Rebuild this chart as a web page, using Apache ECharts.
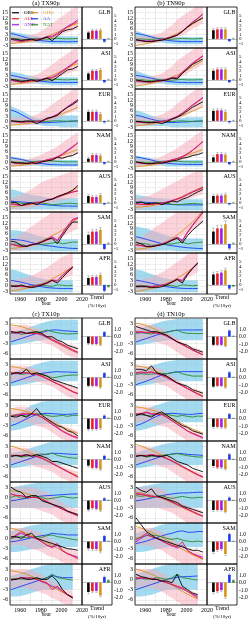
<!DOCTYPE html>
<html><head><meta charset="utf-8">
<script src="https://cdn.jsdelivr.net/npm/echarts@6/dist/echarts.min.js"></script>
<style>html,body{margin:0;padding:0;background:#fff}#c{width:250px;height:621px}</style>
</head><body><div id="c"></div>
<script>
// ---------------- data ----------------
const years = [1951,1956,1961,1966,1971,1976,1981,1986,1991,1996,2001,2006,2011,2016];
const regions = ['GLB','ASI','EUR','NAM','AUS','SAM','AFR'];
const seriesNames = ['OBS','ALL','ANT','GHG','AA','NAT'];
const seriesColors = ['#000000','#ee1c25','#a01ee6','#d8941a','#1a3cf0','#2a8c2a'];
const hotLeftTicks = [-3,0,3,6,9,12,15];
const coldLeftTicks = [-6,-3,0,3];
const hotRightTicks = [-1,0,1,2,3,4,5];
const coldRightTicks = [-2,-1,0,1];
const yearTicks = [1960,1980,2000,2020];

// ---- TX90p ----
const TX90p_OBS = [
[0.5,0.3,-0.3,0,0.3,-0.5,0.5,1.5,-0.5,2,4.5,5.5,6,7.5],
[0.8,0.3,-0.3,0,0.5,-0.3,0.5,1.5,0,2,4,6,6.5,8],
[0.5,0.3,0,0.5,0.3,-1,0.3,2,2.5,3.5,6,8,9.5,11.5],
[0.5,0,0,-0.5,0,-0.5,0.5,1,1.5,3,2.5,3.5,4,5.5],
[1,0.5,-1,0,0.5,-0.5,1,2,2.5,4,5,6,7.5,10],
[2,1.5,-0.5,-1,0,0.5,1.5,3,3.5,0.5,5,9,12.5,12.5],
[0,-0.5,0.5,-0.5,-1,-0.5,0.5,1.5,3,1.5,4.5,7.5,10,null]];
const TX90p_ALL = [
[0.5,-0.5,-1,-0.5,0,0,0.5,1.5,1.5,3,5,7,8.5,10],
[0.5,-0.3,-0.8,-0.5,0,0,0.5,1.3,1.5,3,5,7,9,11],
[0.3,0,-0.3,0,0,0,0.5,1.5,2.5,4,6,8,10,12],
[0.3,-0.3,-0.5,-0.3,0,0.2,0.7,1.5,2,3,4.5,6.5,8.5,11],
[0,-0.5,-1,-0.5,0,0.5,1,2,2.5,3.5,4.5,5.5,6.5,7],
[0.5,-0.5,-1,-0.8,0,0.5,1.5,2.5,4,2,6,10,13.5,14.5],
[-0.5,0,-0.5,-0.5,-0.5,0,0.5,1.5,3,2.5,5.5,8,10.3,null]];
const TX90p_ANT = [
[0.3,-0.3,-0.5,0,0,0.2,0.7,1.8,2,3.5,5.5,7.5,9,11],
[0.3,-0.2,-0.5,0,0,0.3,0.8,1.5,2,3.5,5.5,7.5,9.5,11.5],
[0.3,0,-0.3,0,0.2,0.3,0.7,1.8,2.8,4.2,6.2,8.3,10.3,12.3],
[0.3,-0.3,-0.5,-0.3,0,0.3,0.8,1.7,2.3,3.3,5,7,9,11],
[0,-0.5,-0.8,-0.3,0.2,0.7,1.2,2.2,2.8,3.8,4.8,5.8,6.5,7.2],
[0.5,-0.3,-0.8,-0.5,0.2,0.8,1.8,3,4.5,2.5,6.5,10.5,14,15],
[-0.3,0,-0.3,-0.3,-0.3,0.2,0.8,1.8,3.2,3,5.8,8.3,10.5,null]];
const TX90p_GHG = [
[-2,-1.8,-1.5,-1,-0.5,0,0.8,1.8,3,4.2,5.5,6.8,8,9],
[-2,-1.8,-1.4,-1,-0.5,0,0.8,1.8,3,4.3,5.7,7,8.5,9.5],
[-1.8,-1.6,-1.3,-1,-0.5,0,0.7,1.5,2.5,3.5,4.5,5.7,6.8,8],
[-1.8,-1.6,-1.3,-1,-0.6,0,0.7,1.5,2.3,3.2,4.2,5.2,6.3,7.3],
[-1.5,-1.3,-1,-0.7,-0.3,0.2,0.8,1.7,2.7,3.8,5,6.2,7.5,8.8],
[-2,-1.8,-1.4,-0.8,0,1,2.2,3.5,5,6.5,8,10,12.5,14.5],
[-2.8,-2.4,-1.9,-1.3,-0.6,0.2,1.2,2.4,3.8,5.3,7,8.8,10.5,null]];
const TX90p_AA = [
[3.5,2.8,2,1.2,0.5,0,-0.5,-0.8,-1,-1,-1,-1.1,-1,-1],
[3,2.5,1.8,1.2,0.6,0,-0.3,-0.6,-0.8,-0.9,-0.9,-1,-0.9,-0.9],
[6.5,5.5,4,2.5,1,0,-0.5,-0.5,-0.3,-0.2,0,0.2,0.3,0.5],
[2.8,2.3,1.8,1.2,0.6,0,-0.4,-0.8,-1,-1.1,-1.2,-1.2,-1.2,-1.2],
[1.5,1.2,1,0.8,0.5,0,-0.3,-0.6,-0.8,-1,-1.2,-1.2,-1.3,-1.3],
[3,2.8,2.5,2,1.2,0.5,0,-0.5,-0.8,-1.2,-1.5,-1.8,-2,-2],
[3,2.5,2,1.3,0.6,0,-0.5,-1,-1.2,-1.4,-1.5,-1.5,-1.5,null]];
const TX90p_NAT = [
[0.5,0.6,0.3,0.2,0.5,0.8,0.5,0.3,0.6,0.8,0.6,0.5,0.6,0.7],
[0.5,0.7,0.3,0.2,0.6,0.8,0.4,0.4,0.7,0.8,0.6,0.5,0.7,0.6],
[0.5,0.4,0.3,0.2,0.5,0.6,0.3,0.2,0.5,0.6,0.4,0.3,0.5,0.4],
[0.5,0.4,0.2,0.3,0.5,0.8,1,1.2,1,0.8,0.6,0.5,0.6,0.5],
[0.5,0.8,0.3,0,0.5,1,0.5,0,-0.5,-0.3,0,0.3,0.2,0],
[0,0.5,0.2,-0.5,0,0.5,0.3,0.5,1,1.5,0.5,1,1.5,1.5],
[0,0.3,0,-0.5,0,0.5,0.3,0,-0.3,0.5,0.3,0,0.3,null]];
const TX90p_BLo = [
[-1.5,-1.5,-1.5,-1.5,-1.5,-1.5,-2,-2,-2.5,-2.5,-2.5,-2.5,-2.5,-2.5],
[-1.5,-1.5,-1.5,-1.5,-1.5,-1.5,-2,-2,-2.5,-2.5,-2.5,-2.5,-2.5,-2.5],
[-1,-1,-1,-1.5,-1.5,-1.5,-2,-2.5,-2.5,-2.5,-3,-3,-3,-3],
[-1.5,-1.5,-1.5,-1.5,-1.5,-1.5,-2,-2,-2,-2,-2,-2,-2,-2],
[-3,-3,-3,-3,-3,-3,-3,-3,-3,-3,-3,-3,-3,-3],
[-3,-3,-3,-3,-3,-3,-3,-3,-3.5,-3.5,-3.5,-3.5,-3.5,-3.5],
[-3.5,-3.5,-3.5,-3.5,-3.5,-3.5,-3.5,-3.5,-3.5,-3.5,-3.5,-3.5,-3.5,null]];
const TX90p_BHi = [
[4.5,4,3.5,3,2.5,2,1.5,1.5,1.5,2,2,2,2,2],
[5,4.5,4,3,2.5,2,1.5,1.5,1.5,2,2,2,2,2],
[8.5,7.5,6,4.5,3,2,2,2.5,3,3.5,3.5,3.5,3.5,3.5],
[3.5,3,2.5,2,2,2,1.5,1.5,1.5,1.5,1.5,1.5,1.5,1.5],
[8,7.5,6.5,5.5,5,4.5,4,3.5,3,3,3,3,3,3],
[8,8,7.5,7,6,5,4.5,4,3.5,3,3,3,3,3],
[9,8.5,7.5,6.5,5.5,4.5,4,3.5,3,3,3,3,3,null]];
const TX90p_PLo = [
[-2,-2,-2,-2,-1.5,-1.5,-1,-0.5,0.5,1.5,3,4,5,6],
[-2,-2,-2,-2,-1.5,-1.5,-1,-0.5,0.5,1.5,3,4,5,6],
[-2,-2,-2,-2,-1.5,-1.5,-1,-0.5,0.5,1.5,3,4.5,5.5,6.5],
[-2,-2,-2,-2,-1.5,-1.5,-1,-0.5,0,1,2,3,4,5],
[-3,-3,-3,-2.5,-2,-1.5,-1,0,0.5,1,2,2.5,3,3.5],
[-3,-3,-3,-2.5,-1.5,-1,0,1,2,3,4.5,6,7.5,9],
[-3,-3,-2.5,-2,-1.5,-1,-0.5,0,1,2,3.5,5,6,null]];
const TX90p_PHi = [
[2,2,2,2,2.5,3.5,5,7,9,11,13,15,17,19],
[2,2,2,2,2.5,3.5,5,7,9,11,13,15,17,19],
[2.5,2.5,2.5,2.5,3,4,5.5,7.5,9.5,11.5,13.5,15.5,17.5,19.5],
[2,2,2,2,2.5,3.5,4.5,6,7.5,9,11,13,15,17],
[3,4,5,6.5,8,10,12,13,14,15,16,17,18,19],
[3,4,6,8,10,12,14,16,18,20,22,24,26,28],
[3,3.5,4,4.5,5.5,7,8.5,10,12,14,16,17,18,null]];
const TX90p_TR = [
[1.4,1.8,1.8,1.9,-0.6,0.05],
[1.4,2.0,2.0,2.2,-0.5,0.05],
[2.0,2.0,2.0,1.5,-0.3,0.05],
[0.7,1.5,1.5,1.4,-0.4,0.05],
[1.5,1.3,1.3,1.7,-0.3,0.05],
[2.0,2.7,2.7,3.1,-1.1,0.1],
[1.5,1.7,1.75,2.2,-1.3,-0.4]];
const TX90p_ER = [
[0.3,0.3,0.3,0.3,0.15,0.1],
[0.3,0.3,0.3,0.3,0.15,0.1],
[0.4,0.35,0.35,0.35,0.2,0.1],
[0.35,0.35,0.35,0.35,0.15,0.1],
[0.4,0.35,0.35,0.35,0.15,0.1],
[0.6,0.5,0.5,0.5,0.2,0.15],
[0.5,0.4,0.4,0.4,0.2,0.1]];

// ---- TN90p ----
const TN90p_OBS = [
[0,-0.5,-1,-1,-0.5,-0.3,0.5,1.5,2.5,4.5,7,9,10.5,12],
[0.5,0,-0.5,-0.5,0,0,0.5,1.5,1,4,6.5,9,10.5,12],
[0.3,0,-0.5,-0.5,-0.3,-1,0,1.5,2.5,4,6,8,9.5,11],
[0.5,0,-0.5,-0.5,0,-0.3,0.3,1,1.5,2.5,3,4,4.5,5.5],
[0.5,1,0,0.3,0.5,-0.5,0.5,1.5,1,2.5,3.5,5,6.5,7.8],
[1.5,0.5,-1,-1,-0.5,0,1,2.5,3.5,1,5,8,10.5,13],
[-0.5,-0.5,-0.5,-1,-1,-0.5,0.5,2,3.5,1.5,6,9.5,12.3,null]];
const TN90p_ALL = [
[0,-0.5,-0.8,-0.8,-0.5,0,0.7,1.5,2.5,4.5,7,9.5,11.5,14],
[0,-0.5,-0.7,-0.7,-0.3,0,0.7,1.5,1.5,4.5,7,9.5,11.5,13.5],
[0,-0.3,-0.5,-0.5,-0.3,0,0.5,1.5,2.8,4.5,6.8,9,11,13],
[0.3,-0.3,-0.5,-0.5,-0.2,0.2,0.7,1.5,2.2,3.2,4.8,6.8,9,11.5],
[0,-0.3,-0.5,-0.3,0,0.3,0.8,1.6,2.5,3.5,5,6.3,7.5,8.7],
[0,-0.5,-1,-1,-0.5,0.3,1.2,2.5,4,2,6.5,10.5,14,17.5],
[-0.5,-0.3,-0.5,-0.5,-0.3,0.2,0.8,2,3.5,2.5,6.5,9.5,12.5,null]];
const TN90p_ANT = [
[0,-0.3,-0.6,-0.6,-0.3,0.2,0.9,1.7,2.8,4.8,7.3,9.8,11.8,14.3],
[0,-0.3,-0.5,-0.5,-0.1,0.2,0.9,1.7,2,4.8,7.3,9.8,11.8,13.8],
[0,-0.2,-0.4,-0.3,-0.1,0.3,0.8,1.8,3,4.8,7,9.3,11.3,13.5],
[0.3,-0.2,-0.4,-0.4,-0.1,0.3,0.9,1.7,2.4,3.5,5,7,9.3,11.8],
[0,-0.2,-0.4,-0.2,0.1,0.5,1,1.8,2.7,3.8,5.2,6.6,7.8,9],
[0,-0.3,-0.8,-0.8,-0.3,0.5,1.5,2.8,4.3,2.5,7,11,14.5,18],
[-0.3,-0.2,-0.3,-0.3,-0.1,0.4,1,2.2,3.8,3,6.8,9.8,12.8,null]];
const TN90p_GHG = [
[-3,-2.6,-2.1,-1.5,-0.8,0,1,2.2,3.5,5,6.7,8.5,10.5,12.5],
[-2.8,-2.4,-2,-1.4,-0.7,0,1,2,3.2,4.6,6.2,7.8,9.5,11],
[-2.2,-1.9,-1.6,-1.2,-0.7,-0.1,0.6,1.4,2.4,3.5,4.7,5.9,7,8.2],
[-2.2,-1.9,-1.6,-1.2,-0.7,-0.1,0.6,1.4,2.3,3.3,4.3,5.3,6.3,7.3],
[-2,-1.7,-1.4,-1,-0.5,0.1,0.8,1.7,2.8,4,5.5,6.8,8.2,9.5],
[-2.5,-2.2,-1.8,-1.2,-0.4,0.6,1.8,3.5,5.5,7.5,10,12.5,15.5,19],
[-3.2,-2.7,-2.1,-1.4,-0.6,0.3,1.4,2.7,4.2,5.9,7.8,9.8,12,null]];
const TN90p_AA = [
[3.5,3,2.3,1.5,0.8,0.2,-0.3,-0.6,-0.8,-1,-1,-1,-1,-1],
[3,2.6,2,1.4,0.8,0.2,-0.3,-0.6,-0.8,-0.9,-1,-1,-1,-1],
[3.6,3,2.2,1.4,0.7,0.1,-0.3,-0.4,-0.3,-0.1,0,0.2,0.3,0.5],
[3.2,2.7,2.1,1.5,0.8,0.2,-0.2,-0.5,-0.7,-0.8,-0.9,-0.9,-0.9,-0.9],
[1,0.9,0.8,0.6,0.4,0,-0.2,-0.4,-0.5,-0.6,-0.6,-0.6,-0.6,-0.6],
[4.4,3.8,3,2.2,1.4,0.6,0,-0.5,-0.9,-1.3,-1.6,-1.8,-2,-2],
[3.1,2.6,2,1.4,0.7,0,-0.5,-0.9,-1.2,-1.4,-1.5,-1.5,-1.5,null]];
const TN90p_NAT = [
[0.3,0.5,0.3,0.2,0.5,0.8,0.5,0.3,0.6,0.8,0.6,0.5,0.6,0.7],
[0.4,0.6,0.3,0.2,0.5,0.7,0.4,0.3,0.6,0.7,0.5,0.5,0.6,0.6],
[0.3,0.3,0.2,0.1,0.3,0.5,0.2,0.1,0.4,0.5,0.3,0.2,0.4,0.3],
[0.4,0.4,0.2,0.3,0.5,0.7,0.9,1,0.8,0.6,0.5,0.4,0.5,0.4],
[0.5,0.8,0.3,0,0.5,0.7,0.3,-0.3,-0.5,-0.3,0,0.2,0,-0.2],
[0.3,0.8,0.5,-0.3,0,0.5,0.3,0.5,1,1.5,0.5,1,1.3,1.5],
[0,0.3,0,-0.5,0,0.5,0.3,0,-0.3,0.5,0.3,0,0.3,null]];
const TN90p_BLo = [
[-1.5,-1.5,-1.5,-1.5,-1.5,-1.5,-2,-2,-2.5,-2.5,-2.5,-2.5,-2.5,-2.5],
[-1.5,-1.5,-1.5,-1.5,-1.5,-1.5,-2,-2,-2.5,-2.5,-2.5,-2.5,-2.5,-2.5],
[-2.5,-2.5,-2.5,-2.5,-2.5,-2.5,-2.5,-3,-3,-3,-3,-3,-3,-3],
[-1.5,-1.5,-1.5,-1.5,-1.5,-1.5,-2,-2,-2,-2,-2,-2,-2,-2],
[-3.5,-3.5,-3.5,-3.5,-3.5,-3.5,-3.5,-3.5,-3.5,-3.5,-3.5,-3.5,-3.5,-3.5],
[-3,-3,-3,-3,-3,-3,-3,-3,-3.5,-3.5,-3.5,-3.5,-3.5,-3.5],
[-3.5,-3.5,-3.5,-3.5,-3.5,-3.5,-3.5,-3.5,-3.5,-3.5,-3.5,-3.5,-3.5,null]];
const TN90p_BHi = [
[5,4,3,2.5,2,1.5,1.5,1.5,1.5,1.5,1.5,1.5,1.5,1.5],
[5.5,4.5,3.5,2.5,2,1.5,1.5,1.5,1.5,1.5,1.5,1.5,1.5,1.5],
[6.5,5.5,4.5,3.5,2.5,2,2,2,2,2,2.5,2.5,2.5,2.5],
[4,3.5,3,2.5,2,1.5,1.5,1.5,1.5,1.5,1.5,1.5,1.5,1.5],
[5,4.5,4,3.5,3,3,2.5,2.5,2.5,2.5,2.5,2.5,2.5,2.5],
[10,9.5,9,8,7,6,5,4.5,4,3.5,3.5,3.5,3.5,3.5],
[9,8.5,7.5,6.5,5.5,4.5,4,3.5,3,3,3,3,3,null]];
const TN90p_PLo = [
[-2,-2,-2,-2,-1.5,-1,-0.5,0,1,2.5,4,6,7.5,9],
[-2,-2,-2,-2,-1.5,-1,-0.5,0,1,2.5,4,6,7.5,9],
[-2,-2,-2,-2,-1.5,-1,-0.5,0,1,2.5,4,5.5,7,8.5],
[-2,-2,-2,-2,-1.5,-1,-0.5,0,0.5,1.5,2.5,3.5,5,6.5],
[-3,-3,-2.5,-2,-1.5,-1,-0.5,0,0.5,1.5,2.5,3.5,4.5,5],
[-3,-3,-3,-2.5,-1.5,-0.5,0.5,1.5,3,4.5,6,8,10,12],
[-3,-3,-2.5,-2,-1.5,-1,-0.5,0.5,1.5,3,4.5,6,7.5,null]];
const TN90p_PHi = [
[2,2,2,2.5,3,4,6,8,11,13,15,17,19,21],
[2,2,2,2.5,3,4,6,8,11,13,15,17,19,21],
[2.5,2.5,2.5,2.5,3,4,5.5,7.5,10,12,14.5,16.5,18.5,20.5],
[2,2,2,2,2.5,3.5,5,6.5,8,10,12,14,16,18],
[3,3.5,4,5,6.5,8,9.5,11,12.5,14,15.5,17,18,19],
[3,4,6,8,10,12,14,16,18,20,22,24,26,28],
[3,3.5,4,5,6,7.5,9,11,13,15,17,18.5,20,null]];
const TN90p_TR = [
[1.9,2.1,2.1,2.1,-0.5,0.05],
[2.0,2.3,2.3,2.3,-0.5,0.05],
[2.2,2.3,2.3,2.0,-0.3,0.05],
[1.0,1.7,1.7,1.6,-0.5,0.05],
[1.5,1.6,1.6,1.8,-0.3,0.05],
[2.7,3.4,3.4,4.3,-1.0,0.1],
[2.3,2.5,2.7,3.2,-0.8,-0.3]];
const TN90p_ER = [
[0.35,0.35,0.35,0.35,0.15,0.1],
[0.35,0.35,0.35,0.35,0.15,0.1],
[0.4,0.35,0.35,0.35,0.2,0.1],
[0.4,0.35,0.35,0.35,0.15,0.1],
[0.4,0.35,0.35,0.35,0.15,0.1],
[0.8,0.7,0.7,0.8,0.3,0.15],
[0.5,0.45,0.45,0.45,0.2,0.1]];

// ---- TX10p ----
const TX10p_OBS = [
[0.5,0.3,0.5,0,0.3,0.5,0,-1,-1,-2,-2.5,-3.5,-4,-4.5],
[0,0.5,0.3,1.5,0,0.5,0,-0.5,-1.5,-2,-2.5,-3,-3.5,-4],
[-0.3,-0.5,0,-0.5,0.5,2,0,-1,-2,-3,-3.5,-4.5,-5,-6],
[0,0.3,0,0.5,0,0.5,0,-0.5,-1.5,-1.5,-2,-2.5,-3,-3.5],
[3,2,1.5,0,0.5,0.5,-1,-1.5,-2,-2.5,-3,-4,-4.5,-5],
[0.5,0.5,0,1,1.5,0,-0.5,-1,-1.5,-2,-2.5,-3,-3.2,-3.5],
[0,0,0.5,0,0,0.5,0,0,1,-0.5,-3,-4.5,-5.5,null]];
const TX10p_ALL = [
[0.5,0.2,0.3,0,0,0,-0.3,-1,-1.8,-2.5,-3.2,-4,-4.8,-5.5],
[0.5,0.5,0.5,0.5,0.2,0,-0.5,-1.2,-2,-2.7,-3.4,-4.2,-5,-5.6],
[-0.3,0,0.5,0.5,0.5,0.3,-0.5,-1.5,-2.5,-3.5,-4.5,-5.3,-6,-6.5],
[0.3,0.3,0.3,0.5,0.3,0,-0.5,-1.2,-2,-2.8,-3.6,-4.4,-5.2,-6],
[1,0.5,0.5,0,0,0,-0.5,-1.2,-2,-2.7,-3.4,-4.1,-4.7,-5.3],
[0,1,2,1,0.5,0,-1,-2,-2.5,-1.5,-3.5,-4.5,-5.2,-6],
[0,0,0.5,0.3,0.5,0,-0.5,-1,-3,-2,-3.5,-4.5,-5.3,null]];
const TX10p_ANT = [
[0.3,0,0.2,0,0,-0.1,-0.5,-1.2,-2,-2.7,-3.4,-4.2,-5,-5.6],
[0.3,0.2,0.3,0.4,0.1,-0.1,-0.6,-1.3,-2.1,-2.8,-3.5,-4.3,-5.1,-5.7],
[-0.3,0,0.3,0.3,0.3,0.2,-0.6,-1.6,-2.7,-3.7,-4.7,-5.5,-6.2,-6.7],
[0.2,0.2,0.2,0.4,0.2,-0.1,-0.6,-1.3,-2.1,-2.9,-3.7,-4.5,-5.3,-6.1],
[1,0.6,0.4,0.1,0,-0.1,-0.6,-1.3,-2.1,-2.8,-3.5,-4.2,-4.8,-5.4],
[0,0.8,1.5,0.8,0.3,-0.2,-1,-2,-2.7,-2,-3.7,-4.5,-5,-5.5],
[-0.3,0,0.5,0.5,0.3,0,-0.7,-1.2,-2,-2.5,-3.5,-4.5,-5.2,null]];
const TX10p_GHG = [
[2.5,2.3,2,1.5,1,0.3,-0.5,-1.3,-2.1,-2.9,-3.7,-4.5,-5.2,-5.8],
[2.3,2.1,1.8,1.4,0.9,0.3,-0.4,-1.2,-2,-2.8,-3.6,-4.4,-5.1,-5.7],
[2,1.8,1.5,1.1,0.6,0,-0.6,-1.3,-2,-2.7,-3.4,-4.1,-4.7,-5.2],
[3,2.6,2.1,1.5,0.9,0.2,-0.5,-1.3,-2.1,-2.9,-3.7,-4.4,-5,-5.6],
[2,1.8,1.5,1.1,0.6,0,-0.6,-1.3,-2,-2.7,-3.4,-4.1,-4.8,-5.4],
[3,2.6,2.1,1.5,0.9,0.2,-0.5,-1.3,-2.1,-2.9,-3.7,-4.4,-5,-5.6],
[2.5,2.3,2,1.5,0.9,0.2,-0.6,-1.4,-2.2,-3,-3.8,-4.5,-5.2,null]];
const TX10p_AA = [
[-2.5,-2,-1.5,-1,-0.5,0,0.3,0.7,1,1,0.8,0.7,0.6,0.5],
[-2.5,-2,-1.5,-1,-0.5,0,0.3,0.5,0.7,0.8,0.7,0.7,0.6,0.6],
[-3,-2.5,-1.8,-1,-0.3,0.2,0.5,0.6,0.5,0.4,0.3,0.3,0.4,0.5],
[-2.5,-2,-1.5,-1,-0.5,0,0.4,0.7,0.9,0.9,0.8,0.7,0.6,0.6],
[-1,-0.8,-0.5,-0.3,0,0.2,0.4,0.5,0.6,0.7,0.8,0.9,1,1],
[-1,-0.8,-0.5,-0.2,0.2,0.5,0.8,1,1.5,1.3,1.2,1,1,1],
[-3,-2.5,-2,-1.5,-1,-0.5,0,0.5,1.2,0.8,0.5,0.5,0.5,null]];
const TX10p_NAT = [
[0,0.2,-0.3,0,0.2,0.3,0.5,1,0.5,0.2,0,-0.2,-0.1,0],
[0.5,0.3,0,0.2,0.3,0.2,0,-0.5,-1,-0.8,-0.5,-0.3,-0.2,-0.2],
[0,0.2,0,-0.2,0.3,0.5,0.3,0,-0.3,-0.2,0,-0.3,0,0],
[0,0.2,-0.2,0,0.3,0.5,0.7,0.5,1,0.3,0,-0.3,-0.5,-0.5],
[0,0.5,-0.3,0,0.5,0.3,0,-0.5,-0.3,0,0.3,0,-0.2,0],
[0,0.3,0.5,0.2,0.3,0.5,0.3,0.8,1,0.5,0.3,0,-0.3,-0.5],
[0,0.3,0,0.2,0.5,0.3,0,0.5,1.5,0.5,0.3,0,-0.2,null]];
const TX10p_BLo = [
[-3.5,-3.3,-3,-2.8,-2.5,-2.2,-2,-1.8,-1.8,-2,-2,-2,-2,-2],
[-3.5,-3.3,-3,-2.8,-2.5,-2.2,-2,-2,-2,-2,-2,-2,-2,-2],
[-4.5,-4.3,-4,-3.5,-3,-2.5,-2.5,-2.5,-2.5,-2.5,-2.5,-2.5,-2.5,-2.5],
[-3.5,-3.3,-3,-2.8,-2.5,-2.5,-2.5,-2.5,-2.5,-2.5,-2.5,-2.5,-2.5,-2.5],
[-3,-3,-3,-3,-3,-3,-3,-3,-3,-3,-3,-3,-3,-3],
[-4,-4,-3.8,-3.5,-3.2,-3,-2.8,-2.5,-2.5,-2.5,-2.5,-2.5,-2.5,-2.5],
[-5,-5,-4.8,-4.5,-4,-3.5,-3,-3,-3,-3,-3,-3,-3,null]];
const TX10p_BHi = [
[0.5,0.8,1,1.5,2,2.5,3,3.5,3.8,4,4,4,4,4],
[0.5,1,1.5,2,2.5,3,3.5,3.8,4,4,4,4,4,4],
[0,0.5,1,2,3,3.5,4,4.2,4.3,4.3,4.3,4.3,4.3,4.3],
[1,1.2,1.5,2,2.5,3,3.5,4,4.2,4.3,4.3,4.3,4.3,4.3],
[3,3.2,3.5,3.8,4,4.2,4.3,4.3,4.3,4.3,4.3,4.3,4.3,4.3],
[2,2.5,3,3.5,3.8,4,4.2,4.3,4.3,4.3,4.3,4.3,4.3,4.3],
[1,1.5,2,2.5,3,3.5,4,4.3,4.5,4.5,4.5,4.5,4.5,null]];
const TX10p_PLo = [
[-2,-2,-2,-2,-2,-2,-2.5,-3,-3.5,-4.5,-5.5,-6.5,-7,-7.5],
[-2,-2,-2,-2,-2,-2,-2.5,-3,-3.5,-4.5,-5.5,-6.5,-7,-7.5],
[-2,-2,-2,-2,-2.5,-3,-3.5,-4,-5,-6,-7,-7.5,-7.5,-7.5],
[-2,-2,-2,-2,-2.5,-3,-3.5,-4,-4.5,-5.5,-6.5,-7,-7.5,-7.5],
[-3,-3,-3,-3,-3,-3.5,-4,-4.5,-5,-6,-7,-7.5,-7.5,-7.5],
[-2,-2,-2,-2.5,-3,-3.5,-4,-5,-5.5,-6,-7,-7.5,-7.5,-7.5],
[-2.5,-2.5,-2.5,-2.5,-3,-3.5,-4,-4.5,-5.5,-6,-7,-7.5,-7.5,null]];
const TX10p_PHi = [
[2,2,2.5,2.5,2,1.5,1,0.5,-0.5,-1.5,-2.5,-3,-3.5,-4],
[2.5,2.5,2.5,2.5,2,1.5,1,0.5,-0.5,-1.5,-2.5,-3,-3.5,-4],
[2,2.5,2.5,2.5,2,1.5,1,0,-1,-2,-3,-3.5,-4,-4.5],
[2.5,2.5,2.5,2.5,2,1.5,1,0,-1,-2,-3,-3.5,-4,-4.5],
[3,3,3,3,3,2.5,2,1.5,0.5,-0.5,-1.5,-2.5,-3,-3.5],
[2.5,3,3,3,2.5,2,1.5,0.5,-0.5,-1.5,-2.5,-3,-3.5,-4],
[3,3,3,3,2.5,2,1.5,0.5,-0.5,-1.5,-2.5,-3,-3.5,null]];
const TX10p_TR = [
[-0.9,-1.0,-1.0,-1.1,0.6,0.05],
[-1.1,-1.1,-1.1,-1.3,0.6,0.05],
[-1.4,-1.4,-1.4,-1.3,0.4,0.05],
[-0.8,-1.1,-1.1,-1.3,0.5,0.05],
[-1.2,-1.0,-1.1,-1.3,0.3,0.05],
[-0.9,-1.0,-1.0,-1.3,0.75,0.05],
[-1.25,-1.15,-1.1,-1.7,0.75,0.3]];
const TX10p_ER = [
[0.15,0.12,0.12,0.12,0.08,0.05],
[0.15,0.12,0.12,0.12,0.08,0.05],
[0.2,0.15,0.15,0.15,0.1,0.05],
[0.2,0.15,0.15,0.15,0.1,0.05],
[0.2,0.15,0.15,0.15,0.1,0.05],
[0.25,0.2,0.2,0.2,0.12,0.05],
[0.25,0.2,0.2,0.2,0.12,0.08]];

// ---- TN10p ----
const TN10p_OBS = [
[2,1.5,1,0.5,0.5,0,-0.5,-1.5,-2.5,-3,-3.5,-4.5,-5,-5.5],
[1.5,1.5,1,2.5,0.5,0,-0.5,-1.5,-2.5,-3,-3.5,-4.5,-5,-5.5],
[0,0.5,0,-0.5,0.5,1,0,-1,-2,-3,-3.5,-4.5,-5,-5.5],
[0,0.3,0,0.3,0,0,0.3,-0.5,-1.5,-2,-2.5,-3.5,-4,-4.5],
[3,2,1.5,2.5,0.5,0,-0.5,-1,-1.5,-2.5,-3,-3.5,-4,-4.5],
[6,4,2,1,0,-0.5,-1,-1.5,-2,-2.5,-3,-3.5,-3.5,-4],
[1.5,0.8,0.5,0,0,-0.5,-0.5,-1,1.5,-2,-3,-4,-4.5,null]];
const TN10p_ALL = [
[0.5,0.5,0.3,0.3,0.2,-0.2,-0.8,-1.6,-2.4,-3.2,-4,-4.8,-5.5,-6.2],
[0.5,0.7,0.5,0.8,0.3,-0.2,-0.9,-1.7,-2.5,-3.3,-4.1,-4.9,-5.7,-6.5],
[0.5,0.5,1,0.5,0.5,0.3,-0.5,-1.5,-2.5,-3.5,-4.5,-5.2,-5.8,-6.5],
[0.3,0.3,0.3,0.5,0.3,0,-0.6,-1.3,-2.1,-2.9,-3.7,-4.5,-5.3,-6],
[1,0.8,0.5,0.3,0.2,0,-0.6,-1.3,-2,-2.7,-3.4,-4.1,-4.8,-5.5],
[-0.5,0.5,1.5,0.5,0,-0.5,-1.5,-2,-2.5,-1,-3.5,-4.5,-5.2,-6],
[0.5,0.5,0.3,0.3,0,-0.5,-1,-1.5,-2,-2.5,-3.5,-4.5,-5.5,null]];
const TN10p_ANT = [
[0.3,0.3,0.2,0.2,0.1,-0.3,-0.9,-1.7,-2.5,-3.3,-4.1,-4.9,-5.6,-6.3],
[0.3,0.5,0.4,0.6,0.2,-0.3,-1,-1.8,-2.6,-3.4,-4.2,-5,-5.8,-6.5],
[0.3,0.3,0.8,0.3,0.3,0.2,-0.6,-1.6,-2.6,-3.6,-4.6,-5.4,-6,-6.7],
[0.2,0.2,0.2,0.4,0.2,-0.1,-0.7,-1.4,-2.2,-3,-3.8,-4.6,-5.4,-6.1],
[1.2,1,0.7,0.4,0.2,-0.1,-0.7,-1.4,-2.1,-2.8,-3.5,-4.2,-4.9,-5.6],
[-1,0,1,0.5,0,-0.8,-1.5,-2.2,-2.8,-2,-3.5,-4.5,-5,-5.5],
[0.3,0.3,0.3,0.2,0,-0.5,-1,-1.5,-2.2,-2.8,-3.5,-4.3,-5,null]];
const TN10p_GHG = [
[3,2.7,2.3,1.7,1,0.2,-0.6,-1.5,-2.4,-3.3,-4.1,-4.9,-5.6,-6.2],
[2.5,2.3,2,1.5,0.9,0.2,-0.6,-1.5,-2.4,-3.3,-4.1,-4.9,-5.6,-6.2],
[2.5,2.3,2,1.6,1.1,0.5,-0.2,-0.9,-1.7,-2.5,-3.3,-4,-4.6,-5.2],
[3.5,3,2.4,1.8,1.1,0.3,-0.5,-1.4,-2.3,-3.2,-4,-4.8,-5.5,-6.1],
[1.5,1.3,1,0.6,0.2,-0.3,-0.9,-1.6,-2.3,-3,-3.7,-4.4,-5,-5.5],
[3.5,3,2.4,1.8,1.1,0.3,-0.5,-1.4,-2.3,-3.2,-4,-4.8,-5.5,-6.1],
[3,2.6,2.1,1.5,0.8,0,-0.8,-1.7,-2.6,-3.5,-4.3,-5.1,-5.8,null]];
const TN10p_AA = [
[-2.5,-2,-1.5,-1,-0.5,0,0.4,0.7,0.9,1,1,1,1,1],
[-3,-2.5,-2,-1.4,-0.8,-0.2,0.2,0.5,0.7,0.8,0.8,0.8,0.8,0.8],
[-3,-2.5,-1.8,-1,-0.3,0.3,0.5,0.6,0.5,0.4,0.3,0.3,0.5,0.6],
[-2.5,-2,-1.5,-1,-0.5,0,0.4,0.7,0.9,0.8,0.6,0.5,0.4,0.3],
[-1,-0.8,-0.5,-0.2,0.2,0.5,0.8,1,1.2,1.3,1.3,1.4,1.5,1.5],
[-1.5,-1.2,-0.8,-0.3,0.2,0.7,1.2,1.5,2,2.2,1.8,1.8,2,2],
[-3,-2.5,-2,-1.5,-1,-0.5,0,0.3,0.6,0.8,0.8,0.9,1,null]];
const TN10p_NAT = [
[0,0.2,0,-0.2,0.2,0.3,0.3,0.7,1,0.3,0,0,-0.1,0],
[0,0.2,0,0.1,0.2,0.3,0.2,0.5,0.8,0.2,-0.2,-0.5,-0.5,-0.5],
[0,0.2,0,-0.2,0.3,0.5,0.3,0,-0.3,0,-0.3,-0.5,-0.2,-0.3],
[0,0.2,-0.2,0,0.2,0.3,0.5,0.6,0.8,0.5,0.2,0,-0.2,-0.2],
[0.5,0.3,0.5,0,0.3,0.5,0,-0.3,0,0.3,0,-0.2,0,0],
[0,0.3,0.8,1,0.8,0.5,0,-0.3,0,-0.5,-0.8,-1,-0.8,-1],
[0,0.3,0,0.2,0.5,0.3,0,0.5,1.5,0.5,0.3,0,-0.2,null]];
const TN10p_BLo = [
[-3.5,-3.3,-3,-2.8,-2.5,-2.3,-2,-2,-2,-2,-2,-2,-2,-2],
[-3.5,-3.3,-3,-2.8,-2.5,-2.3,-2,-2,-2,-2,-2,-2,-2,-2],
[-4.5,-4.3,-4,-3.5,-3,-2.5,-2.2,-2,-2,-2,-2,-2,-2,-2],
[-3.5,-3.3,-3,-2.8,-2.5,-2.5,-2.5,-2.5,-2.5,-2.5,-2.5,-2.5,-2.5,-2.5],
[-3,-3,-3,-3,-3,-3,-3,-3,-3,-3,-3,-3,-3,-3],
[-4,-4,-3.8,-3.5,-3,-2.8,-2.5,-2.5,-2.5,-2.5,-2.5,-2.5,-2.5,-2.5],
[-5,-5,-4.8,-4.5,-4,-3.5,-3,-3,-3,-3,-3,-3,-3,null]];
const TN10p_BHi = [
[1,1.5,2,2.5,3,3.5,3.8,4,4.2,4.3,4.3,4.3,4.3,4.3],
[1,1.5,2,2.5,3,3.5,3.8,4,4.2,4.3,4.3,4.3,4.3,4.3],
[0.5,1,1.5,2.5,3,3.5,4,4.2,4.3,4.3,4.3,4.3,4.3,4.3],
[1,1.5,2,2.5,3,3.5,3.8,4,4.2,4.3,4.3,4.3,4.3,4.3],
[3,3.2,3.5,3.8,4,4.2,4.3,4.3,4.3,4.3,4.3,4.3,4.3,4.3],
[1.5,2,2.5,3,3.5,4,4.3,4.5,4.5,4.5,4.5,4.5,4.5,4.5],
[1.5,2,2.5,3,3.5,4,4.3,4.5,4.5,4.5,4.5,4.5,4.5,null]];
const TN10p_PLo = [
[-2,-2,-2,-2,-2.5,-3,-3.5,-4.5,-5.5,-6.5,-7.5,-7.5,-7.5,-7.5],
[-2,-2,-2,-2,-2.5,-3,-3.5,-4.5,-5.5,-6.5,-7.5,-7.5,-7.5,-7.5],
[-2,-2,-2,-2,-2.5,-3,-3.5,-4.5,-5.5,-6.5,-7.5,-7.5,-7.5,-7.5],
[-2,-2,-2,-2,-2.5,-3,-3.5,-4.5,-5.5,-6.5,-7.5,-7.5,-7.5,-7.5],
[-3,-3,-3,-3,-3,-3.5,-4,-4.5,-5.5,-6.5,-7.5,-7.5,-7.5,-7.5],
[-2,-2,-2,-2.5,-3,-3.5,-4.5,-5.5,-6.5,-7.5,-7.5,-7.5,-7.5,-7.5],
[-2.5,-2.5,-2.5,-2.5,-3,-3.5,-4.5,-5.5,-6.5,-7.5,-7.5,-7.5,-7.5,null]];
const TN10p_PHi = [
[2.5,2.5,2.5,2.5,2,1.5,0.5,-0.5,-1.5,-2.5,-3.5,-4,-4.5,-5],
[2.5,2.5,2.5,2.5,2,1.5,0.5,-0.5,-1.5,-2.5,-3.5,-4,-4.5,-5],
[2.5,2.5,2.5,2.5,2,1.5,0.5,-0.5,-1.5,-2.5,-3.5,-4,-4.5,-5],
[3,3,3,2.5,2,1.5,0.5,-0.5,-1.5,-2.5,-3.5,-4,-4.5,-5],
[3,3,3,3,3,2.5,1.5,0.5,-0.5,-1.5,-2.5,-3,-3.5,-4],
[3,3,3,3,2.5,2,1,0,-1,-2,-3,-3.5,-4,-4.5],
[3,3,3,3,2.5,2,1,0,-1,-2,-3,-3.5,-4,null]];
const TN10p_TR = [
[-1.1,-1.1,-1.1,-1.25,0.8,0.05],
[-1.2,-1.1,-1.1,-1.3,0.7,0.05],
[-1.1,-1.1,-1.15,-1.2,0.6,0.05],
[-0.85,-1.05,-1.05,-1.25,0.7,0.05],
[-1.25,-1.25,-1.25,-1.5,0.4,0.05],
[-1.35,-1.1,-1.0,-1.65,1.0,0.05],
[-1.25,-1.15,-1.0,-1.9,1.05,0.3]];
const TN10p_ER = [
[0.15,0.12,0.12,0.12,0.08,0.05],
[0.15,0.12,0.12,0.12,0.08,0.05],
[0.2,0.15,0.15,0.15,0.1,0.05],
[0.2,0.15,0.15,0.15,0.1,0.05],
[0.2,0.15,0.15,0.15,0.1,0.05],
[0.25,0.2,0.2,0.2,0.12,0.05],
[0.25,0.2,0.2,0.2,0.12,0.08]];

// ---------------- layout ----------------
const F = '"Liberation Serif","Times New Roman",serif';
const ROW_H = 41;
const hot = {ymin:-4.5, ymax:18, yint:1.5, lt:hotLeftTicks, bmin:-2, bmax:7, bint:1, rt:hotRightTicks, rfs:5, rfmt:v=>String(v)};
const cold = {ymin:-7.5, ymax:4.5, yint:1.5, lt:coldLeftTicks, bmin:-3, bmax:2.5, bint:0.5, rt:coldRightTicks, rfs:5.5, rfmt:v=>v.toFixed(1)};
const panels = [
  {label:'(a) TX90p', x0:0,   top:7,   sc:hot,  L:[TX90p_OBS,TX90p_ALL,TX90p_ANT,TX90p_GHG,TX90p_AA,TX90p_NAT], B:[TX90p_BLo,TX90p_BHi], P:[TX90p_PLo,TX90p_PHi], T:TX90p_TR, E:TX90p_ER},
  {label:'(b) TN90p', x0:125, top:7,   sc:hot,  L:[TN90p_OBS,TN90p_ALL,TN90p_ANT,TN90p_GHG,TN90p_AA,TN90p_NAT], B:[TN90p_BLo,TN90p_BHi], P:[TN90p_PLo,TN90p_PHi], T:TN90p_TR, E:TN90p_ER},
  {label:'(c) TX10p', x0:0,   top:318, sc:cold, L:[TX10p_OBS,TX10p_ALL,TX10p_ANT,TX10p_GHG,TX10p_AA,TX10p_NAT], B:[TX10p_BLo,TX10p_BHi], P:[TX10p_PLo,TX10p_PHi], T:TX10p_TR, E:TX10p_ER},
  {label:'(d) TN10p', x0:125, top:318, sc:cold, L:[TN10p_OBS,TN10p_ALL,TN10p_ANT,TN10p_GHG,TN10p_AA,TN10p_NAT], B:[TN10p_BLo,TN10p_BHi], P:[TN10p_PLo,TN10p_PHi], T:TN10p_TR, E:TN10p_ER}
];

const near = (a,b)=>Math.abs(a-b)<1e-6;
function bandSeries(gi, lo, hi, color, opacity, z){
  const data = [];
  years.forEach((yr,i)=>{ if(lo[i]!=null && hi[i]!=null) data.push([yr, lo[i], hi[i]]); });
  return {
    type:'custom', xAxisIndex:gi, yAxisIndex:gi, z, silent:true, clip:true, animation:false,
    encode:{x:0, y:[1,2]},
    data,
    renderItem:(params, api)=>{
      if (params.dataIndexInside !== 0) return null;
      const n = params.dataInsideLength;
      const upper=[], lower=[];
      for (let j=0;j<n;j++){
        const x = api.value(0,j);
        upper.push(api.coord([x, api.value(2,j)]));
        lower.unshift(api.coord([x, api.value(1,j)]));
      }
      const cs = params.coordSys;
      return {type:'polygon', shape:{points:upper.concat(lower)}, style:{fill:color, opacity},
        clipPath:{type:'rect', shape:{x:cs.x, y:cs.y, width:cs.width, height:cs.height}}};
    }
  };
}

const grid=[], xAxis=[], yAxis=[], series=[], graphic=[];
const drawOrder = [3,4,5,2,1,0];

panels.forEach(p=>{
  const sc = p.sc, x0 = p.x0, top = p.top;
  graphic.push({type:'text', x:x0+46, y:top-3.5, z:100, style:{text:p.label, font:'6.5px '+F, fill:'#000', align:'center', verticalAlign:'middle'}});
  regions.forEach((reg, ri)=>{
    const y = top + ri*ROW_H;
    const last = ri === regions.length-1;
    const gi = grid.length;
    grid.push({left:x0+10, top:y, width:72, height:ROW_H, outerBoundsMode:'none', containLabel:false});
    xAxis.push({gridIndex:gi, type:'value', min:1950, max:2020, interval:10,
      axisLine:{show:false}, axisTick:{show:false},
      axisLabel:{show:last, fontSize:6, fontFamily:F, color:'#000', margin:2,
        formatter:v=> yearTicks.indexOf(v)>=0 ? String(v) : ''},
      splitLine:{show:true, lineStyle:{color:'#c4c4c4', type:'dotted', width:0.6}}});
    yAxis.push({gridIndex:gi, type:'value', min:sc.ymin, max:sc.ymax, interval:sc.yint,
      axisLine:{show:false}, axisTick:{show:false},
      axisLabel:{fontSize:6, fontFamily:F, color:'#000', margin:2,
        formatter:v=> sc.lt.some(t=>near(t,v)) ? String(Math.round(v)) : ''},
      splitLine:{show:true, lineStyle:{color:['transparent','#c4c4c4'], type:'dotted', width:0.6}}});
    series.push(bandSeries(gi, p.B[0][ri], p.B[1][ri], '#7ccbea', 0.7, 1));
    series.push(bandSeries(gi, p.P[0][ri], p.P[1][ri], '#f7a8b8', 0.5, 2));
    drawOrder.forEach((k, oi)=>{
      const arr = p.L[k][ri];
      const data = [];
      years.forEach((yr,i)=>{ if(arr[i]!=null) data.push([yr, arr[i]]); });
      series.push({type:'line', name:seriesNames[k], xAxisIndex:gi, yAxisIndex:gi, data,
        symbol:'none', showSymbol:false, clip:false, silent:true, animation:false, z:3+oi,
        lineStyle:{color:seriesColors[k], width:0.9}, itemStyle:{color:seriesColors[k]}});
    });
    graphic.push({type:'rect', z:100, silent:true, shape:{x:x0+10, y:y, width:72, height:ROW_H},
      style:{fill:'none', stroke:'#000', lineWidth:0.8}});
    const bi = grid.length;
    grid.push({left:x0+82, top:y, width:30, height:ROW_H, outerBoundsMode:'none', containLabel:false});
    xAxis.push({gridIndex:bi, type:'value', min:-0.6, max:6.9,
      axisLine:{show:true, onZero:true, lineStyle:{color:'#9a9a9a', width:0.6}},
      axisTick:{show:false}, axisLabel:{show:false}, splitLine:{show:false}});
    yAxis.push({gridIndex:bi, type:'value', position:'right', min:sc.bmin, max:sc.bmax, interval:sc.bint,
      axisLine:{show:false}, axisTick:{show:false}, splitLine:{show:false},
      axisLabel:{fontSize:sc.rfs, fontFamily:F, color:'#000', margin:2,
        formatter:v=> sc.rt.some(t=>near(t,v)) ? sc.rfmt(Math.round(v)) : ''}});
    const tr = p.T[ri], er = p.E[ri];
    series.push({type:'custom', xAxisIndex:bi, yAxisIndex:bi, z:2, silent:true, animation:false,
      encode:{x:0, y:[1,2]},
      data: tr.map((v,i)=>[i+1, v-er[i], v+er[i]]),
      renderItem:(params, api)=>{
        const x = api.value(0);
        const a = api.coord([x, api.value(1)]), b = api.coord([x, api.value(2)]);
        const w = 1.1, st = {stroke:'#9a9a9a', lineWidth:0.6};
        return {type:'group', children:[
          {type:'line', shape:{x1:a[0],y1:a[1],x2:b[0],y2:b[1]}, style:st},
          {type:'line', shape:{x1:a[0]-w,y1:a[1],x2:a[0]+w,y2:a[1]}, style:st},
          {type:'line', shape:{x1:b[0]-w,y1:b[1],x2:b[0]+w,y2:b[1]}, style:st}]};
      }});
    series.push({type:'bar', xAxisIndex:bi, yAxisIndex:bi, barWidth:2.6, z:3, silent:true, animation:false,
      data: tr.map((v,i)=>({value:[i+1, v], itemStyle:{color:seriesColors[i]}}))});
    graphic.push({type:'rect', z:100, silent:true, shape:{x:x0+82, y:y, width:30, height:ROW_H},
      style:{fill:'none', stroke:'#000', lineWidth:0.8}});
    graphic.push({type:'text', x:x0+110.5, y:y+2, z:101, silent:true,
      style:{text:reg, font:'6px '+F, fill:'#000', align:'right', verticalAlign:'top'}});
  });
  const bottom = top + regions.length*ROW_H;
  graphic.push({type:'text', x:x0+46, y:bottom+9.5, z:100, style:{text:'Year', font:'5.5px '+F, fill:'#000', align:'center', verticalAlign:'middle'}});
  graphic.push({type:'text', x:x0+97, y:bottom+3.5, z:100, style:{text:'Trend', font:'6px '+F, fill:'#000', align:'center', verticalAlign:'middle'}});
  graphic.push({type:'text', x:x0+97, y:bottom+12, z:100, style:{text:'(%/10yr)', font:'5px '+F, fill:'#000', align:'center', verticalAlign:'middle'}});
});

const legendText = n => ({name:n, textStyle:{color:seriesColors[seriesNames.indexOf(n)]}});
const legendBase = {top:10, orient:'vertical', itemWidth:7, itemHeight:1.2, itemGap:0.5, icon:'rect',
  selectedMode:false, padding:0, textStyle:{fontSize:5, fontFamily:F, lineHeight:5.5}};
const option = {
  animation:false,
  textStyle:{fontFamily:F},
  grid, xAxis, yAxis, series, graphic:{elements:graphic},
  legend:[
    Object.assign({}, legendBase, {left:12, data:['OBS','ALL','ANT'].map(legendText)}),
    Object.assign({}, legendBase, {left:31, data:['GHG','AA','NAT'].map(legendText)})
  ]
};
const chart = echarts.init(document.getElementById('c'), null, {renderer:'canvas'});
chart.setOption(option);
</script>
</body></html>
